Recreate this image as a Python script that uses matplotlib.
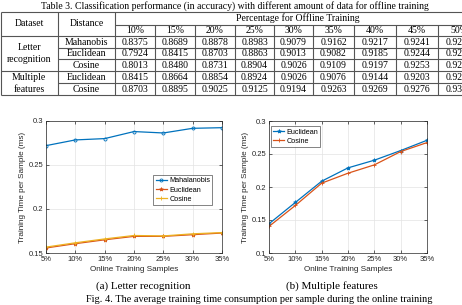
import matplotlib
matplotlib.use("Agg")
import matplotlib.pyplot as plt

# ---------------- data ----------------
pct_offline = ["10%", "15%", "20%", "25%", "30%", "35%", "40%", "45%", "50%"]
row_distance = ["Mahanobis", "Euclidean", "Cosine", "Euclidean", "Cosine"]
acc_letter_mah = [0.8375, 0.8689, 0.8878, 0.8983, 0.9079, 0.9162, 0.9217, 0.9241, 0.9276]
acc_letter_euc = [0.7924, 0.8415, 0.8703, 0.8863, 0.9013, 0.9082, 0.9185, 0.9244, 0.9287]
acc_letter_cos = [0.8013, 0.8480, 0.8731, 0.8904, 0.9026, 0.9109, 0.9197, 0.9253, 0.9290]
acc_multi_euc = [0.8415, 0.8664, 0.8854, 0.8924, 0.9026, 0.9076, 0.9144, 0.9203, 0.9245]
acc_multi_cos = [0.8703, 0.8895, 0.9025, 0.9125, 0.9194, 0.9263, 0.9269, 0.9276, 0.9312]

online_samples = ["5%", "10%", "15%", "20%", "25%", "30%", "35%"]
lr_mahalanobis = [0.272, 0.2785, 0.280, 0.288, 0.2864, 0.2917, 0.2924]
lr_euclidean = [0.1557, 0.1606, 0.1650, 0.1689, 0.1689, 0.1708, 0.1727]
lr_cosine = [0.1567, 0.1616, 0.1660, 0.1699, 0.1694, 0.1718, 0.1732]
mf_euclidean = [0.1443, 0.1766, 0.2088, 0.2290, 0.2406, 0.2552, 0.2708]
mf_cosine = [0.1403, 0.1720, 0.2058, 0.2209, 0.2335, 0.2537, 0.2673]

W, H = 462, 305
fig = plt.figure(figsize=(W / 100, H / 100), dpi=100)
fig.patch.set_facecolor("white")

SERIF = ["Liberation Serif", "DejaVu Serif"]
SANS = ["Liberation Sans", "DejaVu Sans"]

# ---------------- table ----------------
tax = fig.add_axes([0, 0, 1, 1])
tax.set_xlim(0, W)
tax.set_ylim(H, 0)
tax.axis("off")

col_edges = [1, 58, 115, 155, 195, 235, 274, 313, 354, 396, 438, 480]
row_edges = [12, 25, 36, 48, 59, 71, 83, 95]
lc = "#555555"
lw = 0.8

tax.text(235, 6, "Table 3. Classification performance (in accuracy) with different amount of data for offline training",
         ha="center", va="center", fontsize=7.0, family=SERIF)

def hl(y, x0, x1):
    tax.plot([x0, x1], [y, y], color=lc, lw=lw, solid_capstyle="butt")

def vl(x, y0, y1):
    tax.plot([x, x], [y0, y1], color=lc, lw=lw, solid_capstyle="butt")

hl(row_edges[0], col_edges[0], col_edges[-1])
hl(row_edges[1], col_edges[2], col_edges[-1])
hl(row_edges[2], col_edges[0], col_edges[-1])
hl(row_edges[3], col_edges[1], col_edges[-1])
hl(row_edges[4], col_edges[1], col_edges[-1])
hl(row_edges[5], col_edges[0], col_edges[-1])
hl(row_edges[6], col_edges[1], col_edges[-1])
hl(row_edges[7], col_edges[0], col_edges[-1])
for x in col_edges[:3]:
    vl(x, row_edges[0], row_edges[-1])
for x in col_edges[3:]:
    vl(x, row_edges[1], row_edges[-1])

fs = 7.0
tax.text((col_edges[0] + col_edges[1]) / 2, 24, "Dataset", ha="center", va="center", fontsize=fs, family=SERIF)
tax.text((col_edges[1] + col_edges[2]) / 2, 24, "Distance", ha="center", va="center", fontsize=fs, family=SERIF)
tax.text((col_edges[2] + col_edges[-1]) / 2, 18.3, "Percentage for Offline Training", ha="center", va="center",
         fontsize=fs, family=SERIF)
for i, p in enumerate(pct_offline):
    tax.text((col_edges[2 + i] + col_edges[3 + i]) / 2, 30.8, p, ha="center", va="center", fontsize=fs, family=SERIF)

tax.text(29, 47.5, "Letter", ha="center", va="center", fontsize=fs, family=SERIF)
tax.text(29, 59.8, "recognition", ha="center", va="center", fontsize=fs, family=SERIF)
tax.text(29, 78, "Multiple", ha="center", va="center", fontsize=fs, family=SERIF)
tax.text(29, 89.5, "features", ha="center", va="center", fontsize=fs, family=SERIF)

rows = [acc_letter_mah, acc_letter_euc, acc_letter_cos, acc_multi_euc, acc_multi_cos]
for r, (name, vals) in enumerate(zip(row_distance, rows)):
    yc = (row_edges[2 + r] + row_edges[3 + r]) / 2 + 0.3
    tax.text((col_edges[1] + col_edges[2]) / 2, yc, name, ha="center", va="center", fontsize=fs, family=SERIF)
    for i, v in enumerate(vals):
        tax.text((col_edges[2 + i] + col_edges[3 + i]) / 2, yc, f"{v:.4f}", ha="center", va="center",
                 fontsize=fs, family=SERIF)

# ---------------- plots ----------------
c_blue, c_orange, c_yellow = "#0072BD", "#D95319", "#EDB120"
tfs = 5.5

def style(ax, yticks, ylabels, ylim):
    x = range(len(online_samples))
    ax.set_xlim(0, len(online_samples) - 1)
    ax.set_xticks(list(x))
    ax.set_xticklabels(online_samples, fontsize=tfs, family=SANS, color="#262626")
    ax.set_ylim(*ylim)
    ax.set_yticks(yticks)
    ax.set_yticklabels(ylabels, fontsize=tfs, family=SANS, color="#262626")
    ax.grid(True, color="#e3e3e3", lw=0.5)
    ax.set_axisbelow(True)
    for s in ax.spines.values():
        s.set_color("#262626")
        s.set_linewidth(0.5)
    ax.tick_params(direction="in", length=2, width=0.5, pad=2, top=True, right=True,
                   labeltop=False, labelright=False, colors="#262626")
    ax.set_xlabel("Online Training Samples", fontsize=5.9, family=SANS, labelpad=2, color="#262626")
    ax.set_ylabel("Training Time per Sample (ms)", fontsize=5.9, family=SANS, labelpad=2, color="#262626")

def px_rect(x0, x1, ytop, ybot):
    return [x0 / W, 1 - ybot / H, (x1 - x0) / W, (ybot - ytop) / H]

legkw = dict(frameon=True, fancybox=False, edgecolor="#262626", borderpad=0.3, handlelength=1.6,
             handletextpad=0.3, labelspacing=0.3, borderaxespad=0, prop={"family": SANS, "size": 5.2})

ax1 = fig.add_axes(px_rect(46, 222, 121, 253))
xs = list(range(len(online_samples)))
ax1.plot(xs, lr_mahalanobis, color=c_blue, lw=0.9, marker="o", ms=2.2, mfc="none", mew=0.6, label="Mahalanobis")
ax1.plot(xs, lr_euclidean, color=c_orange, lw=0.9, marker="*", ms=2.8, mew=0.6, label="Euclidean")
ax1.plot(xs, lr_cosine, color=c_yellow, lw=0.9, marker="+", ms=2.8, mew=0.6, label="Cosine")
style(ax1, [0.15, 0.2, 0.25, 0.3], ["0.15", "0.2", "0.25", "0.3"], (0.15, 0.3))
leg1 = ax1.legend(loc="upper left", bbox_to_anchor=(0.61, 0.59), **legkw)
leg1.get_frame().set_linewidth(0.5)

ax2 = fig.add_axes(px_rect(269, 427, 121, 253))
ax2.plot(xs, mf_euclidean, color=c_blue, lw=0.9, marker="*", ms=2.8, mew=0.6, label="Euclidean")
ax2.plot(xs, mf_cosine, color=c_orange, lw=0.9, marker="+", ms=2.8, mew=0.6, label="Cosine")
style(ax2, [0.1, 0.15, 0.2, 0.25, 0.3], ["0.1", "0.15", "0.2", "0.25", "0.3"], (0.1, 0.3))
leg2 = ax2.legend(loc="upper left", bbox_to_anchor=(0.01, 0.96), **legkw)
leg2.get_frame().set_linewidth(0.5)

# captions
tax.text(143, 286.5, "(a) Letter recognition", ha="center", va="center", fontsize=8.0, family=SERIF)
tax.text(332, 286.5, "(b) Multiple features", ha="center", va="center", fontsize=8.0, family=SERIF)
tax.text(259, 299, "Fig. 4. The average training time consumption per sample during the online training",
         ha="center", va="center", fontsize=7.4, family=SERIF)

fig.savefig("out.png", dpi=100, facecolor="white")
